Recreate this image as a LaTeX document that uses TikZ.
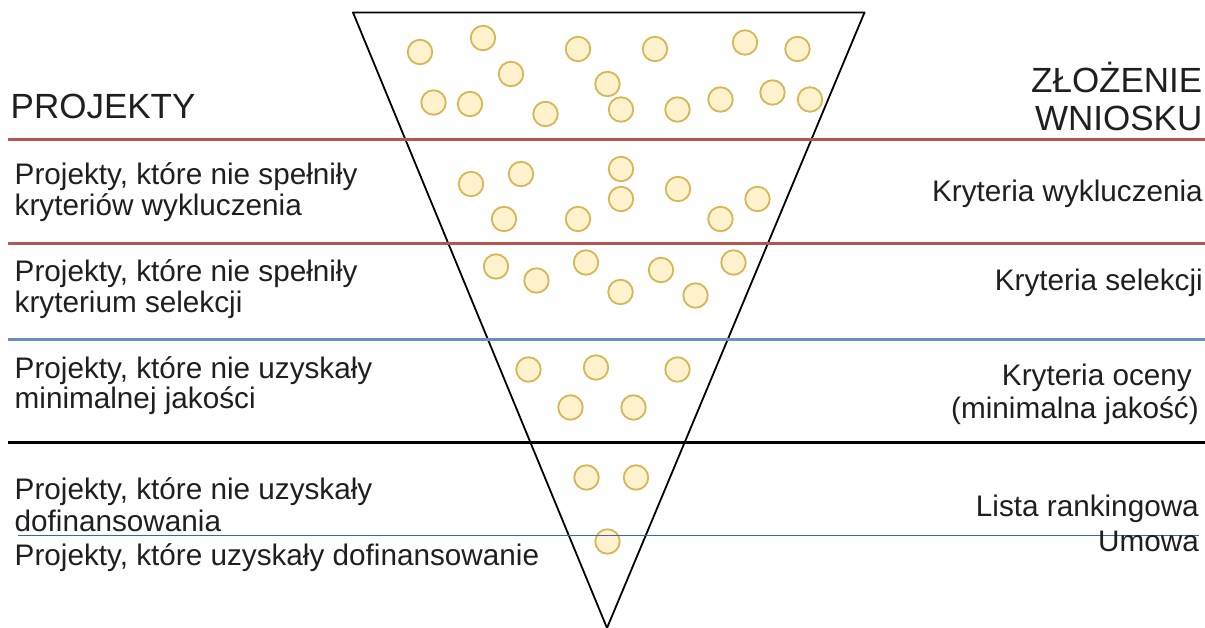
\documentclass[tikz,border=0pt]{standalone}
\usepackage{fontspec}
\setmainfont{Liberation Sans}
\definecolor{txt}{HTML}{1F1F1F}
\definecolor{redline}{HTML}{B85450}
\definecolor{blueline}{HTML}{6C8EBF}
\definecolor{thinblue}{HTML}{2E68C0}
\definecolor{ballfill}{HTML}{FFF2CC}
\definecolor{ballline}{HTML}{D6B656}
\begin{document}
\begin{tikzpicture}[x=1pt,y=-1pt,
  lbl/.style={inner sep=0pt, text=txt, font=\fontsize{29.7}{32}\selectfont},
  head/.style={inner sep=0pt, text=txt, font=\fontsize{35}{38}\selectfont},
  ball/.style={circle, draw=ballline, fill=ballfill, line width=1.8pt, minimum size=24.5pt, inner sep=0pt},
  funnel/.style={draw=black, line width=1.8pt, line join=round},
  redsep/.style={draw=redline, line width=3pt},
  bluesep/.style={draw=blueline, line width=3pt},
  blacksep/.style={draw=black, line width=3.5pt},
  thinsep/.style={draw=thinblue, line width=1.8pt}]
\useasboundingbox (0,0) rectangle (1205,627);

% funnel
\coordinate (tl) at (353,12.5);
\coordinate (tr) at (864.5,12.5);
\coordinate (ap) at (607,628);
\draw[funnel] (tl) -- (tr) -- (ap) -- cycle;

% separators
\coordinate (r1a) at (8,139);   \coordinate (r1b) at (1205,139);
\coordinate (r2a) at (8,243.5); \coordinate (r2b) at (1205,243.5);
\coordinate (b1a) at (8,339);   \coordinate (b1b) at (1205,339);
\coordinate (k1a) at (8,442.5); \coordinate (k1b) at (1205,442.5);
\coordinate (t1a) at (18,535.5); \coordinate (t1b) at (1199,535.5);
\draw[redsep] (r1a) -- (r1b);
\draw[redsep] (r2a) -- (r2b);
\draw[bluesep] (b1a) -- (b1b);
\draw[blacksep] (k1a) -- (k1b);

% balls - top region
\foreach \i/\p in {1/{(420,52)},2/{(483,38)},3/{(578,49)},4/{(655,49)},5/{(745,42.5)},6/{(797.5,49)},
  7/{(511,74)},8/{(607.5,84)},9/{(433.5,102.5)},10/{(470,104)},11/{(545.5,114)},12/{(621,109.5)},
  13/{(677.5,109.5)},14/{(720.5,99.5)},15/{(772.5,92.5)},16/{(810,99.5)}}
  \node[ball] (ta\i) at \p {};
% balls - exclusion region
\foreach \i/\p in {1/{(471,184)},2/{(521,174)},3/{(621,169)},4/{(621,199)},5/{(678,189)},
  6/{(757.5,199)},7/{(504,219)},8/{(578,219)},9/{(720.5,219)}}
  \node[ball] (ex\i) at \p {};
% balls - selection region
\foreach \i/\p in {1/{(496,266.5)},2/{(536.5,280.5)},3/{(586,262.5)},4/{(620.5,292)},
  5/{(661,270)},6/{(695.5,295.5)},7/{(733.5,262.5)}}
  \node[ball] (se\i) at \p {};
% balls - quality region
\foreach \i/\p in {1/{(528.5,369.5)},2/{(596,367.5)},3/{(677.5,369.5)},4/{(570.5,407.5)},5/{(633.5,407.5)}}
  \node[ball] (qu\i) at \p {};
% balls - funding region
\foreach \i/\p in {1/{(586.5,477.5)},2/{(636,477.5)},3/{(607.5,541.5)}}
  \node[ball] (fu\i) at \p {};

\draw[thinsep] (t1a) -- (t1b);

% left labels
\node[head, anchor=base west] (projekty) at (10.5,118) {PROJEKTY};
\node[lbl, anchor=base west] (l1a) at (14.5,184) {Projekty, które nie spełniły};
\node[lbl, anchor=base west] (l1b) at (14.5,215) {kryteriów wykluczenia};
\node[lbl, anchor=base west] (l2a) at (14.5,281) {Projekty, które nie spełniły};
\node[lbl, anchor=base west] (l2b) at (14.5,312.5) {kryterium selekcji};
\node[lbl, anchor=base west] (l3a) at (14.5,378.5) {Projekty, które nie uzyskały};
\node[lbl, anchor=base west] (l3b) at (14.5,408.5) {minimalnej jakości};
\node[lbl, anchor=base west] (l4a) at (14.5,499.5) {Projekty, które nie uzyskały};
\node[lbl, anchor=base west] (l4b) at (14.5,531.5) {dofinansowania};
\node[lbl, anchor=base west] (l5a) at (14.5,565) {Projekty, które uzyskały dofinansowanie};

% right labels
\node[head, anchor=base east] (zl) at (1202.5,92) {ZŁOŻENIE};
\node[head, anchor=base east] (wn) at (1202.5,130) {WNIOSKU};
\node[lbl, anchor=base east] (r1) at (1203,201.5) {Kryteria wykluczenia};
\node[lbl, anchor=base east] (r2) at (1203,290) {Kryteria selekcji};
\node[lbl, anchor=base east] (r3a) at (1192,385) {Kryteria oceny};
\node[lbl, anchor=base east] (r3b) at (1199,418) {(minimalna jakość)};
\node[lbl, anchor=base east] (r4a) at (1199,516.5) {Lista rankingowa};
\node[lbl, anchor=base east] (r4b) at (1199,551.5) {Umowa};
\end{tikzpicture}
\end{document}
